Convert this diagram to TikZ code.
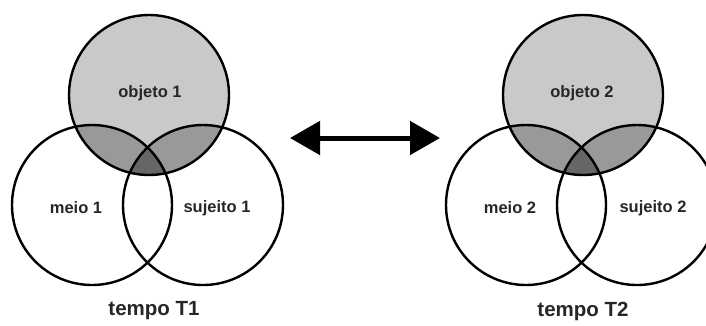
\documentclass[tikz,border=0pt]{standalone}
\usepackage{fontspec}
\setmainfont{Liberation Sans}
\usetikzlibrary{arrows.meta}
\definecolor{lightg}{gray}{0.79}
\definecolor{midg}{gray}{0.60}
\definecolor{darkg}{gray}{0.40}
\tikzset{
  ring/.style={draw=black, line width=2.4pt},
  lbl/.style={font=\fontsize{16.5}{18}\selectfont\bfseries, text=black!85},
  ttl/.style={font=\fontsize{20.5}{22}\selectfont\bfseries, text=black!85},
}
\begin{document}
\begin{tikzpicture}[x=1pt,y=-1pt]
\useasboundingbox (0,0) rectangle (706,325);
\fill[white] (0,0) rectangle (706,325);
% centres
\foreach \dx/\n in {0/1,434/2}{
  \coordinate (top\n) at (149+\dx,95);
  \coordinate (bl\n) at (92+\dx,205);
  \coordinate (br\n) at (203+\dx,205);
  \fill[lightg] (top\n) circle (80);
  \begin{scope}
    \clip (top\n) circle (80);
    \fill[midg] (bl\n) circle (80);
    \fill[midg] (br\n) circle (80);
    \clip (bl\n) circle (80);
    \fill[darkg] (br\n) circle (80);
  \end{scope}
  \draw[ring] (top\n) circle (80);
  \draw[ring] (bl\n) circle (80);
  \draw[ring] (br\n) circle (80);
}
\node[lbl] (obj1) at (150,93) {objeto 1};
\node[lbl] (meio1) at (76,208) {meio 1};
\node[lbl] (suj1) at (217,208) {sujeito 1};
\node[ttl] (t1) at (154,311) {tempo T1};
\node[lbl] (obj2) at (582,93) {objeto 2};
\node[lbl] (meio2) at (510,208) {meio 2};
\node[lbl] (suj2) at (653,208) {sujeito 2};
\node[ttl] (t2) at (583,311) {tempo T2};
% arrow
\coordinate (aL) at (290,138);
\coordinate (aR) at (440,138);
\draw[line width=5pt, {Triangle[length=30pt,width=33pt]}-{Triangle[length=30pt,width=33pt]}] (aL) -- (aR);
\end{tikzpicture}
\end{document}
